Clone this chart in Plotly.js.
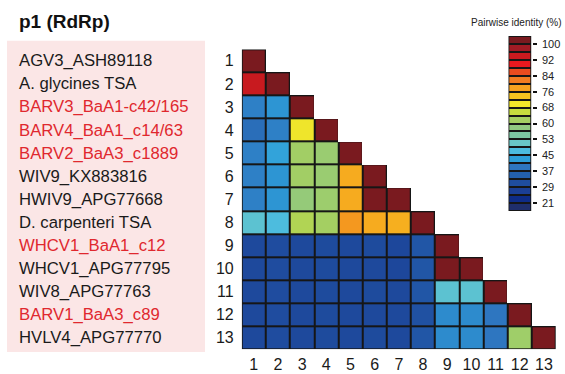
<!DOCTYPE html>
<html>
<head>
<meta charset="utf-8">
<script src="https://cdn.plot.ly/plotly-3.0.1.min.js"></script>
<style>html,body{margin:0;padding:0;background:#fff}#chart{width:565px;height:374px}</style>
</head>
<body>
<div id="chart"></div>
<script>
// ---- data ----
var seqNames = ["AGV3_ASH89118","A. glycines TSA","BARV3_BaA1-c42/165","BARV4_BaA1_c14/63","BARV2_BaA3_c1889","WIV9_KX883816","HWIV9_APG77668","D. carpenteri TSA","WHCV1_BaA1_c12","WHCV1_APG77795","WIV8_APG77763","BARV1_BaA3_c89","HVLV4_APG77770"];
var isNewSeq = [0,0,1,1,1,0,0,0,1,0,0,1,0];
var seqIndex = [1,2,3,4,5,6,7,8,9,10,11,12,13];
// lower-triangle pairwise identity (%) rows
var identityRows = [
  [100],
  [94,100],
  [40,42,100],
  [37.5,40,70,100],
  [40,43.5,62,60.5,100],
  [40,42,62,60.5,77,100],
  [40,42,59.5,61,77,100,100],
  [49,47,64,62.5,79,77,76.5,100],
  [30,31,30,30.5,30,30.5,29.5,33,100],
  [30,31,30,30.5,30,30,29.5,33,100,100],
  [30,31,30,30.5,30,30.5,30,33,49,49,100],
  [30,31,30,30.5,30,30,30,32,41,41,39,100],
  [30,31,30,30.5,30,30.5,30,33,41,41,39,61.5,100]
];
var legendMin = 17.5, legendMax = 103.5;
var legendColors = ["#7a1a1f","#a11b24","#cb1a1f","#e6191f","#e84b1f","#f07b21","#f5a11f","#f7c41f","#f2e62a","#c6dc3e","#a4cf62","#90c980","#7cc7a2","#68c6c6","#4cbcdf","#2d9fd9","#2e76c0","#2360ad","#1f4d9f","#1b3f95","#0e2c87","#1f2e6b"];
var legendTickText = ["100","92","84","76","68","60","53","45","37","29","21"];
var titleText = "p1 (RdRp)";
var legendTitle = "Pairwise identity (%)";

// ---- build ----
var n = seqIndex.length;
var z = [], zb = [];
for (var i = 0; i < n; i++) {
  var r = [], rb = [];
  for (var j = 0; j < n; j++) {
    var v = (j < identityRows[i].length) ? identityRows[i][j] : null;
    r.push(v); rb.push(v === null ? null : 1);
  }
  z.push(r); zb.push(rb);
}
var nb = legendColors.length;
var bw = (legendMax - legendMin) / nb;
// continuous scale with stops at bin centres; top bin solid from its lower edge
var cs = [];
for (var k = nb - 1; k >= 1; k--) {
  var c = legendMax - bw * (k + 0.5);
  cs.push([(c - legendMin) / (legendMax - legendMin), legendColors[k]]);
}
cs.unshift([0, legendColors[nb - 1]]);
cs.push([(legendMax - bw - legendMin) / (legendMax - legendMin), legendColors[0]]);
cs.push([1, legendColors[0]]);

var legEdges = [], legZ = [], legZb = [];
for (var k2 = 0; k2 <= nb; k2++) legEdges.push(legendMin + bw * k2);
for (var k3 = 0; k3 < nb; k3++) { var cc = legendMin + bw * (k3 + 0.5); legZ.push([cc]); legZb.push([1]); }
var legTickVals = [];
for (var t = 0; t < legendTickText.length; t++) legTickVals.push(legendMax - bw * (1 + 2 * t));

var black = [[0,'#161616'],[1,'#161616']];
var traces = [
  {type:'heatmap', x:seqIndex, y:seqIndex, z:zb, colorscale:black, showscale:false, hoverinfo:'skip', zmin:0, zmax:1},
  {type:'heatmap', x:seqIndex, y:seqIndex, z:z, colorscale:cs, zmin:legendMin, zmax:legendMax, showscale:false, xgap:2, ygap:2},
  {type:'heatmap', x:[0], y:legEdges, z:legZb, colorscale:black, showscale:false, hoverinfo:'skip', zmin:0, zmax:1, xaxis:'x2', yaxis:'y2'},
  {type:'heatmap', x:[0], y:legEdges, z:legZ, colorscale:cs, zmin:legendMin, zmax:legendMax, showscale:false, xgap:2, ygap:2, xaxis:'x2', yaxis:'y2'}
];

var W = 565, H = 374;
var font = "Liberation Sans, Arial, sans-serif";
var annotations = [{
  xref:'paper', yref:'paper', x:17/W, y:1-21/H, xanchor:'left', yanchor:'middle', showarrow:false,
  text:'<b>'+titleText+'</b>', font:{family:font, size:19, color:'#111'}
},{
  xref:'paper', yref:'paper', x:516/W, y:1-22.5/H, xanchor:'center', yanchor:'middle', showarrow:false,
  text:legendTitle, font:{family:font, size:10, color:'#222'}
}];
for (var a = 0; a < n; a++) {
  annotations.push({xref:'paper', yref:'y', x:17/W, y:seqIndex[a], xanchor:'left', yanchor:'middle', showarrow:false,
    text:seqNames[a], font:{family:font, size:16.7, color: isNewSeq[a] ? '#e0282e' : '#1a1a1a'}});
}

var layout = {
  width:W, height:H, margin:{l:0,r:0,t:0,b:0}, paper_bgcolor:'#fff', plot_bgcolor:'rgba(0,0,0,0)',
  showlegend:false,
  xaxis:{domain:[241.7/W, 556/W], range:[0.5, 13.5], tickvals:seqIndex, ticktext:seqIndex.map(String), showgrid:false, zeroline:false, showline:false, ticks:'', ticklabelstandoff:4, tickfont:{family:font, size:16, color:'#1a1a1a'}, anchor:'y', fixedrange:true},
  yaxis:{domain:[1-349.3/H, 1-49.3/H], range:[13.5, 0.5], tickvals:seqIndex, ticktext:seqIndex.map(String), showgrid:false, zeroline:false, showline:false, ticks:'', ticklabelstandoff:7, tickfont:{family:font, size:16, color:'#1a1a1a'}, anchor:'x', fixedrange:true},
  xaxis2:{domain:[508.3/W, 531.7/W], range:[-0.5,0.5], showticklabels:false, showgrid:false, zeroline:false, ticks:'', anchor:'y2'},
  yaxis2:{domain:[1-211/H, 1-36/H], range:[legendMin, legendMax], side:'right', anchor:'x2', tickvals:legTickVals, ticktext:legendTickText, ticks:'outside', ticklen:4, tickwidth:2, tickcolor:'#111', showgrid:false, zeroline:false, showline:false, ticklabelstandoff:3, tickfont:{family:font, size:11, color:'#222'}},
  shapes:[{type:'rect', xref:'paper', yref:'paper', x0:7/W, x1:205/W, y0:1-352/H, y1:1-40.7/H, fillcolor:'#fbe6e6', line:{width:0}, layer:'below'}],
  annotations:annotations
};
Plotly.newPlot('chart', traces, layout, {displayModeBar:false, staticPlot:true});
</script>
</body>
</html>
